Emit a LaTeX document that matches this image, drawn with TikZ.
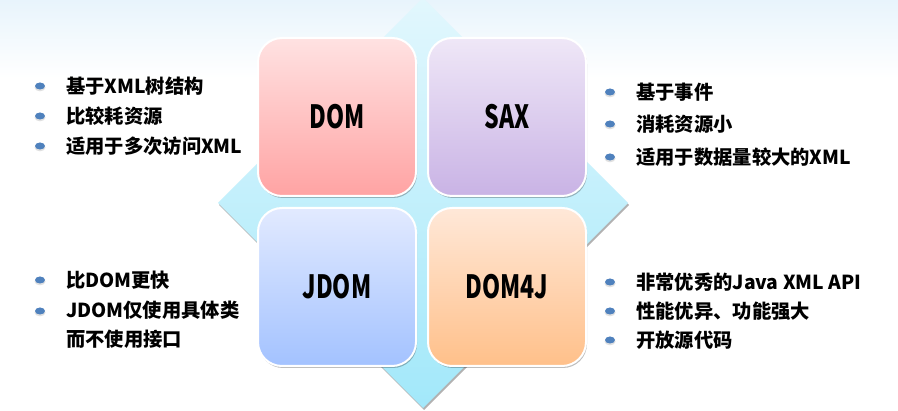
\documentclass[tikz,border=0pt]{standalone}
\usepackage{fontspec}
\usepackage{graphicx}
\newfontfamily\cjk{Noto Sans CJK SC}
\usetikzlibrary{shadows, positioning}

\definecolor{bgtop}{HTML}{E8F4FC}
\definecolor{diamtop}{HTML}{E2F7FD}
\definecolor{diambot}{HTML}{A2E8FA}
\definecolor{domtop}{HTML}{FFE2E2}
\definecolor{dombot}{HTML}{FFA3A3}
\definecolor{saxtop}{HTML}{EFE7F7}
\definecolor{saxbot}{HTML}{C9B3E5}
\definecolor{jdomtop}{HTML}{E2EAFF}
\definecolor{jdombot}{HTML}{A3C2FF}
\definecolor{djtop}{HTML}{FFE8D8}
\definecolor{djbot}{HTML}{FFC08A}
\definecolor{bulblue}{HTML}{4F81BD}

\newcommand{\boxlabel}[1]{\scalebox{0.72}[1]{#1}}

\begin{document}
\begin{tikzpicture}[x=1pt, y=-1pt,
    every node/.style={font=\cjk},
    box/.style={rectangle, rounded corners=24pt, minimum width=158pt, minimum height=158pt,
      draw=white, line width=2pt, font=\cjk\bfseries\fontsize{32}{32}\selectfont,
      drop shadow={shadow xshift=1pt, shadow yshift=-2pt, opacity=0.25, fill=black}},
    item/.style={anchor=west, inner sep=0pt, align=left,
      font=\cjk\bfseries\fontsize{19.3}{28.5}\selectfont},
    bullet/.style={fill=bulblue},
    bulshadow/.style={fill=black!12}]
  \useasboundingbox (0,0) rectangle (898,411);
  \clip (0,0) rectangle (898,411);
  % background
  \fill[white] (0,0) rectangle (898,411);
  \shade[top color=bgtop, bottom color=white] (0,0) rectangle (898,78);
  % diamond behind the boxes
  \shade[top color=diamtop, bottom color=diambot,
    drop shadow={shadow xshift=1pt, shadow yshift=-2pt, opacity=0.3, fill=black}]
    (423,-2) -- (628,203) -- (423,408) -- (218,203) -- cycle;

  % the four boxes
  \node[box, top color=domtop, bottom color=dombot] (dom) at (337,117) {\boxlabel{DOM}};
  \node[box, top color=saxtop, bottom color=saxbot, right=10pt of dom] (sax) {\boxlabel{SAX}};
  \node[box, top color=jdomtop, bottom color=jdombot, below=10pt of dom] (jdom) {\boxlabel{JDOM}};
  \node[box, top color=djtop, bottom color=djbot, below=10pt of sax] (domfj) {\boxlabel{DOM4J}};

  % lists
  \foreach \y/\t/\n in {86/基于XML树结构/a, 116/比较耗资源/b, 146/适用于多次访问XML/c} {
    \fill[bulshadow] (40,\y+1.5) ellipse [x radius=5.5pt, y radius=3.8pt];
    \fill[bullet] (40,\y) ellipse [x radius=5pt, y radius=3.5pt];
    \node[item] (dom\n) at (66,\y) {\t};
  }
  \foreach \y/\t/\n in {92/基于事件/a, 124/消耗资源小/b, 157/适用于数据量较大的XML/c} {
    \fill[bulshadow] (610,\y+1.5) ellipse [x radius=5.5pt, y radius=3.8pt];
    \fill[bullet] (610,\y) ellipse [x radius=5pt, y radius=3.5pt];
    \node[item] (sax\n) at (636,\y) {\t};
  }
  \foreach \y in {280, 311} {
    \fill[bulshadow] (40,\y+1.5) ellipse [x radius=5.5pt, y radius=3.8pt];
    \fill[bullet] (40,\y) ellipse [x radius=5pt, y radius=3.5pt];
  }
  \node[item] (jdoma) at (66,280) {比DOM更快};
  \node[item, anchor=north west] (jdomb) at (66,301) {JDOM仅使用具体类\\而不使用接口};
  \foreach \y/\t/\n in {282/非常优秀的Java XML API/a, 311/性能优异、功能强大/b, 340/开放源代码/c} {
    \fill[bulshadow] (610,\y+1.5) ellipse [x radius=5.5pt, y radius=3.8pt];
    \fill[bullet] (610,\y) ellipse [x radius=5pt, y radius=3.5pt];
    \node[item] (domfj\n) at (636,\y) {\t};
  }
\end{tikzpicture}
\end{document}
